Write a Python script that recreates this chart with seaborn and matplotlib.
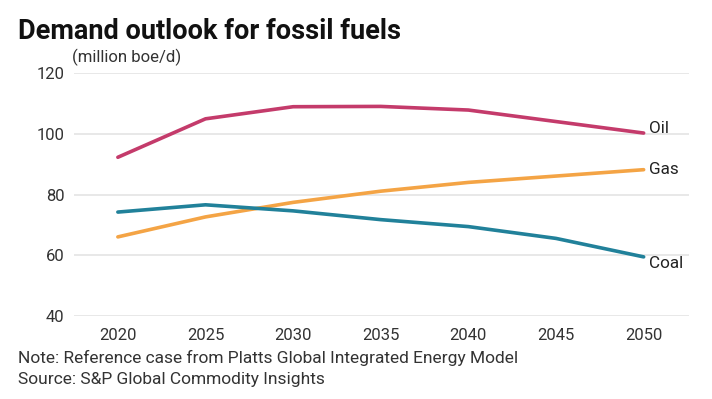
import matplotlib
matplotlib.use("Agg")
import matplotlib.pyplot as plt
import seaborn as sns
import pandas as pd

years = [2020, 2025, 2030, 2035, 2040, 2045, 2050]
oil = [92.3, 105.0, 109.0, 109.1, 107.9, 104.1, 100.3]
gas = [66.0, 72.6, 77.4, 81.1, 84.0, 86.1, 88.2]
coal = [74.2, 76.6, 74.6, 71.7, 69.4, 65.5, 59.4]
series_names = ["Oil", "Gas", "Coal"]
colors = ["#c43b6b", "#f4a445", "#21819a"]
yticks = [40, 60, 80, 100, 120]
xticks = years

df = pd.concat([
    pd.DataFrame({"year": years, "value": vals, "fuel": name})
    for name, vals in zip(series_names, [oil, gas, coal])
])

sns.set_theme(style="white")
plt.rcParams["font.family"] = ["Roboto", "DejaVu Sans"]

fig = plt.figure(figsize=(7.12, 3.99), dpi=100)
ax = fig.add_axes([0.104, 0.209, 0.864, 0.607])

sns.lineplot(data=df, x="year", y="value", hue="fuel", palette=dict(zip(series_names, colors)),
             linewidth=2.6, ax=ax, legend=False)

ax.set_xlim(2017.5, 2052.6)
ax.set_ylim(40, 120)
ax.set_yticks(yticks)
ax.set_xticks(xticks)
ax.set_xlabel("")
ax.set_ylabel("")
ax.grid(axis="y", color="#e6e6e6", linewidth=1.3)
ax.set_axisbelow(True)
for s in ax.spines.values():
    s.set_visible(False)
ax.tick_params(axis="both", length=0, labelsize=12, labelcolor="#333333")
ax.tick_params(axis="y", pad=7)
ax.tick_params(axis="x", pad=9)

offsets = {"Oil": 3, "Gas": 0, "Coal": -4.5}
for name, vals in zip(series_names, [oil, gas, coal]):
    ax.annotate(name, xy=(years[-1], vals[-1]), xytext=(4, offsets[name]),
                textcoords="offset points", va="center", ha="left",
                fontsize=12.3, color="#222222")

fig.text(0.025, 0.922, "Demand outlook for fossil fuels", fontsize=19.5, fontweight="bold",
         color="#111111", va="center", ha="left")
fig.text(0.101, 0.855, "(million boe/d)", fontsize=12.1, color="#333333",
         va="center", ha="left")
fig.text(0.025, 0.103, "Note: Reference case from Platts Global Integrated Energy Model",
         fontsize=12.5, color="#333333", va="center", ha="left")
fig.text(0.025, 0.050, "Source: S&P Global Commodity Insights",
         fontsize=12.5, color="#333333", va="center", ha="left")

fig.savefig("out.png", dpi=100)
